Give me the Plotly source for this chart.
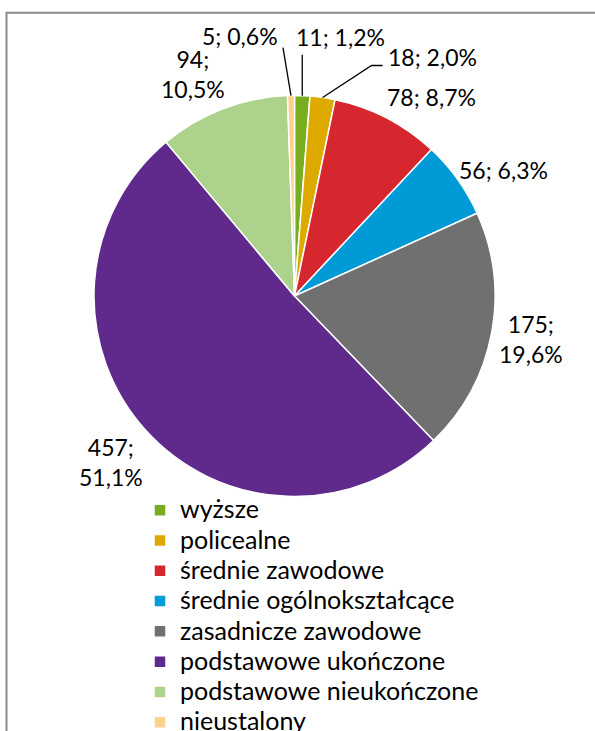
import plotly.graph_objects as go
import math

# ---- data ----
categories = ["wyższe", "policealne", "średnie zawodowe", "średnie ogólnokształcące",
              "zasadnicze zawodowe", "podstawowe ukończone", "podstawowe nieukończone",
              "nieustalony"]
values = [11, 18, 78, 56, 175, 457, 94, 5]
colors = ["#78AD1F", "#DEAA00", "#D6262E", "#009BD6", "#707070", "#60298C", "#ADD28C", "#FAD28C"]
wrapped = {"zasadnicze zawodowe", "podstawowe ukończone", "podstawowe nieukończone"}

# ---- layout geometry (page pixels) ----
W, H = 595, 731
CX, CY, R = 294.5, 296.0, 200.5

# label centre offsets from the slice's outer mid point (px)
label_offsets = {
    "wyższe": (38, -59), "policealne": (110, -40), "średnie zawodowe": (45, -21),
    "średnie ogólnokształcące": (46, -9), "zasadnicze zawodowe": (40, 5),
    "podstawowe ukończone": (-34, 32), "podstawowe nieukończone": (-30, -35),
    "nieustalony": (-51, -60),
}
# leader line vertices relative to the slice's outer mid point (px)
leaders = {
    "wyższe": [(0, -41)],
    "policealne": [(49, -32), (60, -32)],
    "nieustalony": [(-8, -48)],
}


def px2paper(x, y):
    return x / W, 1 - y / H


total = sum(values)
dx0, dy1 = px2paper(CX - R, CY - R)
dx1, dy0 = px2paper(CX + R, CY + R)
fig = go.Figure(go.Pie(
    labels=[f'<span style="font-size:25px">{c}</span>' for c in categories],
    values=values,
    sort=False, direction="clockwise", rotation=0,
    marker=dict(colors=colors, line=dict(color="white", width=1.5)),
    textinfo="none", hoverinfo="label+value+percent",
    domain=dict(x=[dx0, dx1], y=[dy0, dy1]),
    showlegend=True,
))

annotations = []
shapes = []
cum = 0
for cat, v in zip(categories, values):
    mid = (cum + v / 2) / total * 2 * math.pi
    cum += v
    ex, ey = CX + R * math.sin(mid), CY - R * math.cos(mid)
    pct = f"{v / total * 100:.1f}".replace(".", ",")
    sep = "<br>" if cat in wrapped else " "
    txt = f"{v};{sep}{pct}%"
    dx, dy = label_offsets[cat]
    lx, ly = px2paper(ex + dx, ey + dy)
    annotations.append(dict(x=lx, y=ly, xref="paper", yref="paper", text=txt,
                            showarrow=False, xanchor="center", yanchor="middle",
                            font=dict(family="Lato", size=23, color="black")))
    if cat in leaders:
        pts = [(ex, ey)] + [(ex + a, ey + b) for a, b in leaders[cat]]
        path = ""
        for i, (a, b) in enumerate(pts):
            pa, pb = px2paper(a, b)
            path += ("M" if i == 0 else "L") + f"{pa},{pb} "
        shapes.append(dict(type="path", xref="paper", yref="paper", path=path,
                           line=dict(color="black", width=1.3)))

# chart frame (open to the right and bottom, as in the cropped original)
fx0, fy0 = px2paper(6.5, 12.7)
fx1, fy1 = px2paper(800, 900)
shapes.append(dict(type="rect", xref="paper", yref="paper", x0=fx0, y0=fy0, x1=fx1, y1=fy1,
                   line=dict(color="#8A8A8A", width=2), layer="below"))

lx, ly = px2paper(140, 490)
fig.update_layout(
    width=W, height=H,
    margin=dict(l=0, r=0, t=0, b=0, autoexpand=False),
    paper_bgcolor="white", plot_bgcolor="white",
    font=dict(family="Lato", color="black"),
    legend=dict(x=lx, y=ly, xanchor="left", yanchor="top",
                font=dict(family="Lato", size=21, color="black"),
                bgcolor="rgba(0,0,0,0)", traceorder="normal"),
    annotations=annotations, shapes=shapes,
)
fig.write_html("out.html",
               config={"displayModeBar": False},
               post_script="document.body.style.margin='0px';"
                           "document.body.style.overflow='hidden';")
